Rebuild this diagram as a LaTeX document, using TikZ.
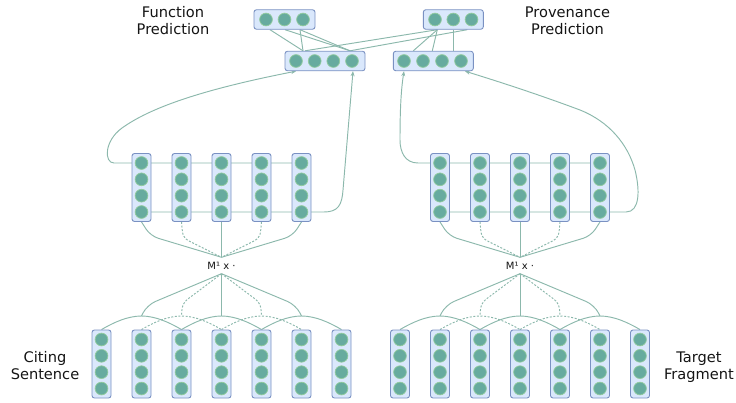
\documentclass[tikz,border=0pt]{standalone}
\usepackage{fontspec}
\setmainfont{DejaVu Sans}
\usetikzlibrary{arrows.meta,calc}
\pgfdeclarelayer{bg}
\pgfsetlayers{bg,main}
\definecolor{boxf}{HTML}{DAE8FC}
\definecolor{boxd}{HTML}{7A91C2}
\definecolor{neuf}{HTML}{67AB9F}
\definecolor{neud}{HTML}{93CC9E}
\definecolor{linec}{HTML}{8CB8AC}
\definecolor{txtc}{HTML}{141414}
\begin{document}
\begin{tikzpicture}[x=1pt,y=-1pt,
 colbox/.style={rectangle,draw=boxd,fill=boxf,line width=0.9pt,rounded corners=2.5pt,minimum width=19pt,minimum height=68pt,inner sep=0pt},
 hbox/.style={rectangle,draw=boxd,fill=boxf,line width=0.9pt,rounded corners=2.5pt,minimum height=19.5pt,inner sep=0pt},
 neuron/.style={circle,fill=neuf,draw=neud,line width=0.7pt,minimum size=12.8pt,inner sep=0pt},
 conn/.style={draw=linec,line width=0.95pt},
 dconn/.style={conn,dash pattern=on 2pt off 1.6pt},
 arr/.style={conn,-{Stealth[length=5pt,width=4pt]}},
 lbl/.style={font=\fontsize{14.6}{17}\selectfont,align=center,text=txtc},
 mlbl/.style={font=\fontsize{10}{12}\selectfont,text=txtc,inner sep=0pt,minimum height=16pt}
]
\useasboundingbox (0,0) rectangle (736,402);

% bottom input columns
\foreach \i in {1,...,7} {
  \node[colbox] (bl\i) at ({61.5+40*\i},364) {};
  \node[colbox] (br\i) at ({360+40*\i},364) {};
  \foreach \k/\dy in {1/-24.5,2/-8.17,3/8.17,4/24.5} {
    \node[neuron] (bl\i-\k) at ({61.5+40*\i},{364+\dy}) {};
    \node[neuron] (br\i-\k) at ({360+40*\i},{364+\dy}) {};
  }
}
% middle convolution columns
\foreach \i in {1,...,5} {
  \node[colbox] (ml\i) at ({101.5+40*\i},187.5) {};
  \node[colbox] (mr\i) at ({400+40*\i},187.5) {};
  \foreach \k/\dy in {1/-24.5,2/-8.17,3/8.17,4/24.5} {
    \node[neuron] (ml\i-\k) at ({101.5+40*\i},{187.5+\dy}) {};
    \node[neuron] (mr\i-\k) at ({400+40*\i},{187.5+\dy}) {};
  }
}
% hidden boxes
\node[hbox,minimum width=80pt] (hl) at (325,61) {};
\foreach \k/\x in {1/296,2/314.7,3/333.3,4/352} \node[neuron] (hl\k) at (\x,61) {};
\node[hbox,minimum width=80pt] (hr) at (433.3,61) {};
\foreach \k/\x in {1/404,2/423,3/442,4/461} \node[neuron] (hr\k) at (\x,61) {};
% output boxes
\node[hbox,minimum width=61pt] (tl) at (284.5,19.5) {};
\foreach \k/\x in {1/266,2/284.5,3/303} \node[neuron] (tl\k) at (\x,19.5) {};
\node[hbox,minimum width=60pt] (tr) at (453.3,19.5) {};
\foreach \k/\x in {1/435,2/453.3,3/471.5} \node[neuron] (tr\k) at (\x,19.5) {};

% operator nodes
\node[mlbl] (Ml) at (221.5,265.5) {M¹ x ·};
\node[mlbl] (Mr) at (520,265.5) {M¹ x ·};

% labels
\node[lbl] (fp) at (173,20.5) {Function\\Prediction};
\node[lbl] (pp) at (567.5,20.5) {Provenance\\Prediction};
\node[lbl] (cs) at (45,366) {Citing\\Sentence};
\node[lbl] (tf) at (699,367) {Target\\Fragment};

% convolution points
\foreach \i in {2,...,6} {
  \coordinate (pl\i) at ({61.5+40*\i},316);
  \coordinate (pr\i) at ({360+40*\i},316);
}

\begin{pgfonlayer}{bg}
% arches over inputs
\foreach \side in {l,r} {
  \foreach \i/\s in {2/conn,3/dconn,4/conn,5/dconn,6/conn} {
    \pgfmathtruncatemacro{\a}{\i-1}
    \pgfmathtruncatemacro{\b}{\i+1}
    \draw[\s] (b\side\a.north) .. controls ($(b\side\a.north)+(12,-7)$) and ($(p\side\i)+(-14,0)$) .. (p\side\i)
      .. controls ($(p\side\i)+(14,0)$) and ($(b\side\b.north)+(-12,-7)$) .. (b\side\b.north);
  }
  % operator to convolution points
  \draw[conn,rounded corners=9pt] (M\side.south) -- ($(p\side2)+(5.5,-11)$) -- (p\side2);
  \draw[dconn,rounded corners=6pt] (M\side.south) -- ($(p\side3)+(1,-13)$) -- (p\side3);
  \draw[conn] (M\side.south) -- (p\side4);
  \draw[dconn,rounded corners=6pt] (M\side.south) -- ($(p\side5)+(-1,-13)$) -- (p\side5);
  \draw[conn,rounded corners=9pt] (M\side.south) -- ($(p\side6)+(-5.5,-11)$) -- (p\side6);
  % middle columns to operator
  \draw[conn,rounded corners=8pt] (m\side1.south) -- ($(m\side1.south)+(9,14)$) -- (M\side.north);
  \draw[dconn,rounded corners=6pt] (m\side2.south) -- ($(m\side2.south)+(1.5,16)$) -- (M\side.north);
  \draw[conn] (m\side3.south) -- (M\side.north);
  \draw[dconn,rounded corners=6pt] (m\side4.south) -- ($(m\side4.south)+(-1.5,16)$) -- (M\side.north);
  \draw[conn,rounded corners=8pt] (m\side5.south) -- ($(m\side5.south)+(-9,14)$) -- (M\side.north);
}
% row lines with feedback arrows
\draw[arr] (ml5-1.center) -- (ml1-1.center) -- (114,163) .. controls (104,163) and (104,141) .. (122,128)
  .. controls (150,108) and (200,90) .. ([xshift=-29pt]hl.south);
\draw[arr] (ml1-4.center) -- (ml5-4.center) -- (324,212) .. controls (338,212) and (342,205) .. (343,190)
  -- ([xshift=28pt]hl.south);
\draw[arr] (mr5-1.center) -- (mr1-1.center) -- (418,163) .. controls (405,163) and (400,152) .. (400,140)
  .. controls (400,110) and (401,90) .. ([xshift=-29.3pt]hr.south);
\draw[arr] (mr1-4.center) -- (mr5-4.center) -- (626,212) .. controls (640,212) and (640,190) .. (635,170)
  .. controls (628,145) and (610,122) .. (580,110) .. controls (540,95) and (500,82) .. ([xshift=31.7pt]hr.south);
% output connections
\draw[conn] ([xshift=-14.5pt]tl.south) -- ([xshift=-22pt]hl.north);
\draw[conn] ([xshift=15.5pt]tl.south) -- ([xshift=-22pt]hl.north);
\draw[conn] ([xshift=0.5pt]tl.south) -- ([xshift=25pt]hl.north);
\draw[conn] ([xshift=15.5pt]tl.south) -- ([xshift=25pt]hl.north);
\draw[conn] ([xshift=-16pt]tr.south) -- ([xshift=-20pt]hl.north);
\draw[conn] ([xshift=14pt]tr.south) -- ([xshift=25pt]hl.north);
\draw[conn] ([xshift=-16pt]tr.south) -- ([xshift=-20pt]hr.north);
\draw[conn] ([xshift=-16pt]tr.south) -- ([xshift=-1pt]hr.north);
\draw[conn] (tr.south) -- ([xshift=20pt]hr.north);
\end{pgfonlayer}
\end{tikzpicture}
\end{document}
